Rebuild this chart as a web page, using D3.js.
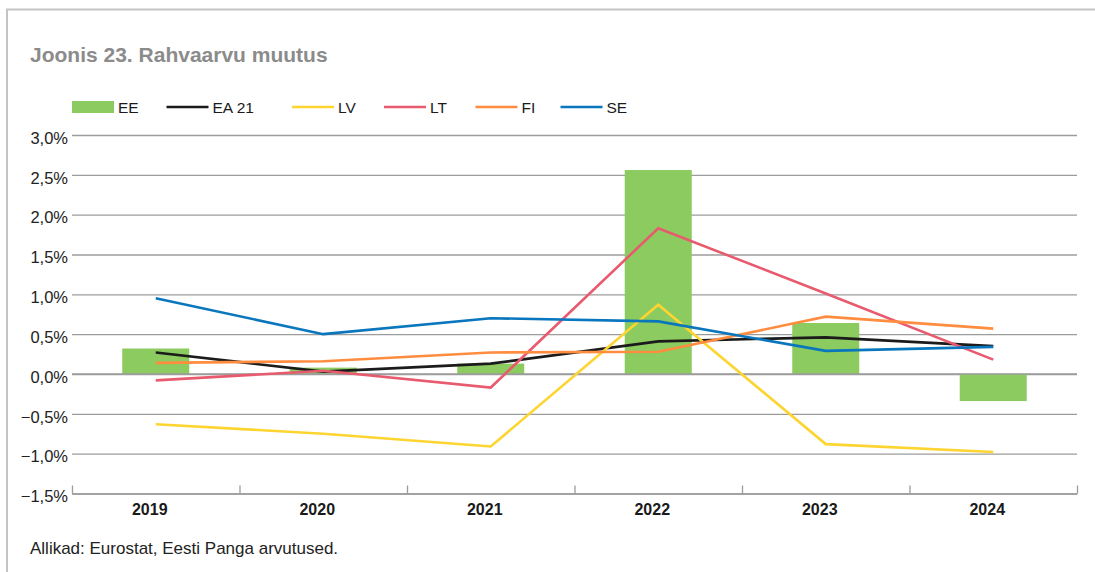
<!DOCTYPE html>
<html>
<head>
<meta charset="utf-8">
<script src="https://cdn.jsdelivr.net/npm/d3@7"></script>
<style>
  body { margin: 0; background: #fff; }
  svg { display: block; font-family: "Liberation Sans", Arial, sans-serif; }
</style>
</head>
<body>
<svg id="chart" width="1095" height="572"></svg>
<script>
// data (% change)
const years = ["2019", "2020", "2021", "2022", "2023", "2024"];
const EE   = [0.32, 0.08, 0.13, 2.56, 0.64, -0.34];
const EA21 = [0.27, 0.03, 0.13, 0.41, 0.46, 0.35];
const LV   = [-0.63, -0.75, -0.91, 0.87, -0.88, -0.98];
const LT   = [-0.08, 0.04, -0.17, 1.83, 1.01, 0.18];
const FI   = [0.14, 0.16, 0.27, 0.28, 0.72, 0.57];
const SE   = [0.95, 0.50, 0.70, 0.66, 0.29, 0.34];
const yTicks = [-1.5, -1.0, -0.5, 0, 0.5, 1.0, 1.5, 2.0, 2.5, 3.0];

const lineSeries = [
  { name: "EA 21", values: EA21, color: "#1b1b1b" },
  { name: "LV", values: LV, color: "#fdd430" },
  { name: "LT", values: LT, color: "#e85a6e" },
  { name: "FI", values: FI, color: "#ff8c3f" },
  { name: "SE", values: SE, color: "#0a76bd" }
];
const barColor = "#8ccb5f";

const svg = d3.select("#chart");

// frame
svg.append("line").attr("x1", 6).attr("x2", 1095).attr("y1", 9.5).attr("y2", 9.5)
  .attr("stroke", "#c4c4c4").attr("stroke-width", 2);
svg.append("line").attr("x1", 7).attr("x2", 7).attr("y1", 9).attr("y2", 572)
  .attr("stroke", "#c4c4c4").attr("stroke-width", 2);

// title
svg.append("text").attr("x", 30).attr("y", 62)
  .attr("font-size", 21).attr("font-weight", "bold").attr("fill", "#8b8b8b")
  .text("Joonis 23. Rahvaarvu muutus");

const plot = { left: 72, right: 1077, top: 135, bottom: 493.5 };

const x = d3.scaleBand().domain(years).range([plot.left, plot.right]).padding(0);
const y = d3.scaleLinear().domain([-1.5, 3]).range([plot.bottom, plot.top]);

const locale = d3.formatLocale({ decimal: ",", thousands: " ", grouping: [3], currency: ["", ""] });
const fmt = locale.format(".1f");

// gridlines + y labels
const yAxis = svg.append("g")
  .attr("transform", `translate(${plot.left},0)`)
  .call(d3.axisLeft(y).tickValues(yTicks).tickSize(-(plot.right - plot.left)).tickPadding(4)
    .tickFormat(d => fmt(d) + "%"));
yAxis.select(".domain").remove();
yAxis.selectAll(".tick line").attr("stroke", "#9c9c9c").attr("stroke-width", 1.3);
yAxis.selectAll(".tick text").attr("font-size", 16.5).attr("fill", "#222")
  .attr("font-family", "Liberation Sans, Arial, sans-serif").attr("dy", "0.5em");

// EE bars
const bw = x.bandwidth();
svg.append("g").selectAll("rect")
  .data(EE)
  .enter().append("rect")
  .attr("x", (d, i) => x(years[i]) + bw * 0.3)
  .attr("width", bw * 0.4)
  .attr("y", d => y(Math.max(0, d)))
  .attr("height", d => Math.abs(y(d) - y(0)))
  .attr("fill", barColor);

// zero line over bars
svg.append("line").attr("x1", plot.left).attr("x2", plot.right).attr("y1", y(0)).attr("y2", y(0))
  .attr("stroke", "#9c9c9c").attr("stroke-width", 1.3);

// x axis: boundary ticks pointing up
const xIdx = d3.scaleLinear().domain([0, years.length]).range([plot.left, plot.right]);
const xTickAxis = svg.append("g")
  .attr("transform", `translate(0,${plot.bottom})`)
  .call(d3.axisTop(xIdx).ticks(years.length).tickSize(8).tickSizeOuter(0).tickFormat(""));
xTickAxis.selectAll("path, line").attr("stroke", "#9c9c9c").attr("stroke-width", 1.3);

// year labels
const xAxis = svg.append("g")
  .attr("transform", `translate(0,${plot.bottom})`)
  .call(d3.axisBottom(x).tickSize(0).tickPadding(9));
xAxis.select(".domain").remove();
xAxis.selectAll(".tick text").attr("font-size", 16).attr("font-weight", "bold")
  .attr("fill", "#1a1a1a").attr("font-family", "Liberation Sans, Arial, sans-serif")
  .attr("dx", -6).attr("dy", "0.8em");

// lines
const line = d3.line()
  .x((d, i) => x(years[i]) + bw / 2)
  .y(d => y(d));

svg.append("g").selectAll("path")
  .data(lineSeries)
  .enter().append("path")
  .attr("d", s => line(s.values))
  .attr("fill", "none")
  .attr("stroke", s => s.color)
  .attr("stroke-width", 2.6)
  .attr("stroke-linejoin", "miter");

// legend
const legendItems = [{ name: "EE", color: barColor, bar: true }].concat(lineSeries);
const legendX = [72, 166.5, 292, 384, 475.5, 560.5];
const legend = svg.append("g");
legendItems.forEach((it, i) => {
  const g = legend.append("g").attr("transform", `translate(${legendX[i]},107)`);
  if (it.bar) {
    g.append("rect").attr("x", 0).attr("y", -6).attr("width", 42).attr("height", 12).attr("fill", it.color);
  } else {
    g.append("line").attr("x1", 0).attr("x2", 42).attr("y1", 0).attr("y2", 0)
      .attr("stroke", it.color).attr("stroke-width", 2.6);
  }
  g.append("text").attr("x", 46).attr("y", 6).attr("font-size", 15.5).attr("fill", "#1a1a1a")
    .text(it.name);
});

// source
svg.append("text").attr("x", 30).attr("y", 554)
  .attr("font-size", 17).attr("fill", "#222")
  .text("Allikad: Eurostat, Eesti Panga arvutused.");
</script>
</body>
</html>
